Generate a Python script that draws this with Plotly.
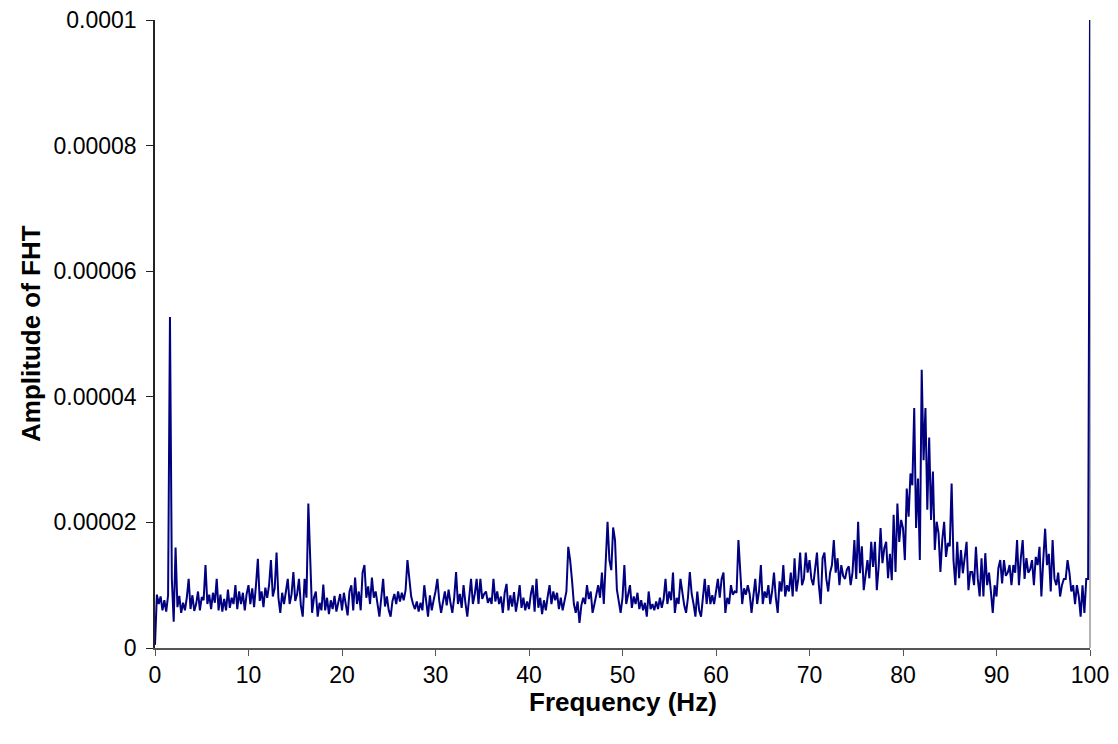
import plotly.graph_objects as go

# Frequency grid: 0 to 100 Hz, step 0.2 Hz (501 bins)
freq_step = 0.2
freq = [round(i * freq_step, 1) for i in range(501)]

# Amplitude of FHT, in units of 1e-6 (10 bins = 2 Hz per row)
amp_e6 = [
    0.5, 8.5, 7.0, 8.2, 6.0, 7.6, 5.8, 8.4, 52.7, 11.0,      # 0-1.8
    4.2, 16.0, 6.5, 8.3, 5.6, 7.2, 6.0, 8.0, 11.0, 6.2,      # 2-3.8
    8.4, 5.9, 7.0, 9.0, 6.0, 8.1, 7.6, 13.2, 7.0, 8.5,       # 4-5.8
    6.2, 8.8, 7.2, 11.0, 6.0, 8.5, 5.8, 7.8, 6.0, 9.3,       # 6-7.8
    6.4, 8.0, 7.0, 10.0, 6.2, 9.0, 7.0, 8.8, 6.0, 8.6,       # 8-9.8
    10.0, 7.0, 9.5, 6.5, 10.0, 14.2, 7.5, 9.0, 6.5, 9.6,     # 10-11.8
    8.0, 10.0, 14.0, 8.2, 9.5, 15.2, 8.0, 5.6, 8.8, 7.0,     # 12-13.8
    9.0, 11.0, 7.0, 8.5, 12.1, 7.5, 8.6, 11.0, 6.8, 5.0,     # 14-15.8
    11.0, 8.0, 23.0, 13.0, 5.6, 8.0, 9.0, 5.0, 7.2, 6.0,     # 16-17.8
    10.1, 6.0, 8.0, 5.4, 7.6, 6.2, 8.3, 5.8, 7.0, 8.6,       # 18-19.8
    6.0, 8.8, 7.0, 5.2, 9.0, 10.0, 6.0, 11.2, 7.0, 9.0,      # 20-21.8
    6.0, 12.0, 13.2, 8.0, 9.8, 7.0, 11.2, 8.0, 9.0, 6.5,     # 22-23.8
    5.0, 8.0, 11.0, 6.6, 8.2, 6.0, 5.0, 7.5, 8.6, 7.0,       # 24-25.8
    9.0, 7.4, 8.8, 7.6, 9.2, 14.0, 11.0, 8.2, 7.0, 6.2,      # 26-27.8
    7.4, 5.8, 7.2, 6.0, 10.0, 7.0, 5.0, 8.4, 6.0, 7.6,       # 28-29.8
    9.0, 11.0, 7.5, 5.6, 7.2, 9.0, 6.8, 9.3, 7.2, 5.6,       # 30-31.8
    8.0, 12.1, 7.0, 8.6, 6.4, 10.0, 7.2, 5.0, 8.0, 11.0,     # 32-33.8
    7.0, 8.6, 11.0, 7.0, 11.0, 7.8, 8.6, 9.0, 7.2, 8.0,      # 34-35.8
    7.0, 11.0, 7.4, 9.0, 7.0, 8.2, 5.6, 8.8, 10.2, 6.0,      # 36-37.8
    8.4, 6.6, 8.9, 5.8, 7.6, 10.0, 6.4, 8.0, 6.0, 7.4,       # 38-39.8
    6.2, 8.6, 10.0, 5.8, 11.0, 6.4, 8.0, 5.4, 7.6, 6.0,      # 40-41.8
    8.2, 10.0, 7.0, 9.0, 7.6, 8.8, 6.2, 8.0, 6.0, 7.4,       # 42-43.8
    9.0, 16.1, 14.0, 10.8, 7.0, 5.6, 7.4, 4.0, 6.8, 8.0,     # 44-45.8
    7.0, 10.0, 7.8, 9.0, 5.6, 7.0, 8.4, 10.0, 8.0, 12.0,     # 46-47.8
    7.0, 14.0, 20.1, 14.0, 12.4, 19.2, 17.2, 9.3, 7.0, 5.6,  # 48-49.8
    8.0, 13.2, 7.0, 8.6, 10.0, 6.4, 8.2, 7.0, 8.8, 6.2,      # 50-51.8
    7.6, 6.0, 7.2, 5.0, 9.0, 6.2, 7.0, 6.0, 7.4, 6.2,        # 52-53.8
    8.0, 6.4, 7.8, 11.0, 7.0, 9.0, 7.6, 12.0, 5.6, 8.0,      # 54-55.8
    7.0, 11.0, 8.4, 6.8, 5.6, 8.0, 12.1, 8.6, 7.0, 5.0,      # 56-57.8
    9.0, 6.0, 5.0, 8.2, 11.0, 7.0, 10.0, 7.0, 8.4, 7.0,      # 58-59.8
    9.0, 11.0, 8.0, 11.0, 12.0, 5.6, 8.0, 7.0, 10.0, 8.5,    # 60-61.8
    9.0, 8.8, 17.2, 11.0, 7.0, 9.5, 8.5, 10.0, 8.6, 5.6,     # 62-63.8
    8.0, 11.0, 7.0, 9.0, 13.2, 7.0, 9.0, 8.0, 10.0, 7.0,     # 64-65.8
    9.0, 12.0, 8.0, 5.6, 10.6, 9.0, 13.2, 8.2, 10.0, 9.0,    # 66-67.8
    12.0, 8.2, 14.3, 9.0, 11.0, 15.2, 10.0, 11.0, 15.2, 12.0,  # 68-69.8
    14.0, 11.0, 10.0, 12.5, 15.2, 10.0, 7.0, 14.3, 15.2, 11.0,  # 70-71.8
    9.0, 12.0, 13.2, 17.2, 12.0, 14.3, 10.0, 13.2, 11.5, 11.0,  # 72-73.8
    12.5, 13.0, 10.0, 12.0, 17.2, 11.0, 20.1, 11.9, 16.2, 9.2,  # 74-75.8
    12.0, 14.0, 11.1, 16.9, 12.9, 16.9, 9.2, 13.0, 19.1, 13.5,  # 76-77.8
    15.9, 16.9, 11.1, 15.0, 10.8, 21.2, 12.1, 23.0, 16.9, 20.4,  # 78-79.8
    19.1, 14.0, 25.4, 20.9, 27.8, 25.9, 38.2, 19.1, 27.0, 14.0,  # 80-81.8
    44.3, 29.9, 38.2, 22.0, 33.5, 20.4, 28.1, 15.6, 20.1, 18.3,  # 82-83.8
    12.1, 17.2, 20.1, 14.5, 16.7, 16.2, 26.2, 14.0, 10.0, 16.9,  # 84-85.8
    11.1, 15.6, 11.9, 15.0, 16.9, 9.2, 12.1, 12.1, 10.0, 16.1,   # 86-87.8
    11.0, 8.2, 14.3, 8.2, 15.1, 10.0, 12.0, 9.0, 5.6, 10.0,      # 88-89.8
    8.2, 12.7, 14.0, 10.3, 14.0, 11.5, 12.0, 13.2, 10.0, 13.2,   # 90-91.8
    12.0, 17.2, 10.0, 14.3, 17.2, 11.0, 14.3, 12.0, 12.5, 14.0,  # 92-93.8
    10.0, 14.5, 13.2, 16.1, 8.2, 14.0, 19.0, 13.2, 15.0, 9.0,    # 94-95.8
    17.2, 11.0, 10.0, 12.0, 8.2, 10.0, 11.0, 11.0, 14.0, 12.0,   # 96-97.8
    9.0, 10.0, 7.0, 10.0, 8.2, 5.0, 10.0, 5.6, 11.0, 11.0,       # 98-99.8
    100.0,                                                       # 100
]
amplitude = [v * 1e-6 for v in amp_e6]

x_ticks = [0, 10, 20, 30, 40, 50, 60, 70, 80, 90, 100]
y_ticks = [0, 0.00002, 0.00004, 0.00006, 0.00008, 0.0001]
y_tick_labels = ["0", "0.00002", "0.00004", "0.00006", "0.00008", "0.0001"]
x_title = "Frequency (Hz)"
y_title = "Amplitude of FHT"

font_family = "Liberation Sans, Arial, sans-serif"

fig = go.Figure()
fig.add_trace(go.Scatter(
    x=freq, y=amplitude, mode="lines",
    line=dict(color="#000080", width=2),
    hoverinfo="skip", showlegend=False,
))

fig.update_layout(
    width=1110, height=736,
    margin=dict(l=147, r=28, t=12, b=96),
    paper_bgcolor="white", plot_bgcolor="white",
    font=dict(family=font_family, size=23, color="black"),
    xaxis=dict(
        range=[0, 100], tickvals=x_ticks, ticktext=[str(v) for v in x_ticks],
        showgrid=False, zeroline=False, automargin=False,
        showline=True, linecolor="#555555", linewidth=1.5,
        ticks="outside", ticklen=6, tickcolor="#555555",
        ticklabeloverflow="allow",
        tickfont=dict(size=23),
    ),
    yaxis=dict(
        range=[0, 0.0001], tickvals=y_ticks, ticktext=y_tick_labels,
        showgrid=False, zeroline=False, automargin=False,
        showline=True, linecolor="#222222", linewidth=1.5,
        ticks="outside", ticklen=7, tickcolor="#222222",
        ticklabelstandoff=5, ticklabeloverflow="allow",
        tickfont=dict(size=23),
    ),
)

# Axis titles
fig.add_annotation(text="<b>" + x_title + "</b>", xref="paper", yref="paper",
                   x=0.5, y=0, xanchor="center", yanchor="middle", yshift=-54,
                   showarrow=False, font=dict(size=26, family=font_family))
fig.add_annotation(text="<b>" + y_title + "</b>", xref="paper", yref="paper",
                   x=0, y=0.5, xanchor="center", yanchor="middle", xshift=-124,
                   textangle=-90, showarrow=False, font=dict(size=26, family=font_family))

fig.add_shape(type="line", xref="paper", yref="paper", x0=1, x1=1, y0=0, y1=1,
              line=dict(color="#999999", width=1.5), layer="below")

fig.write_html("out.html")
